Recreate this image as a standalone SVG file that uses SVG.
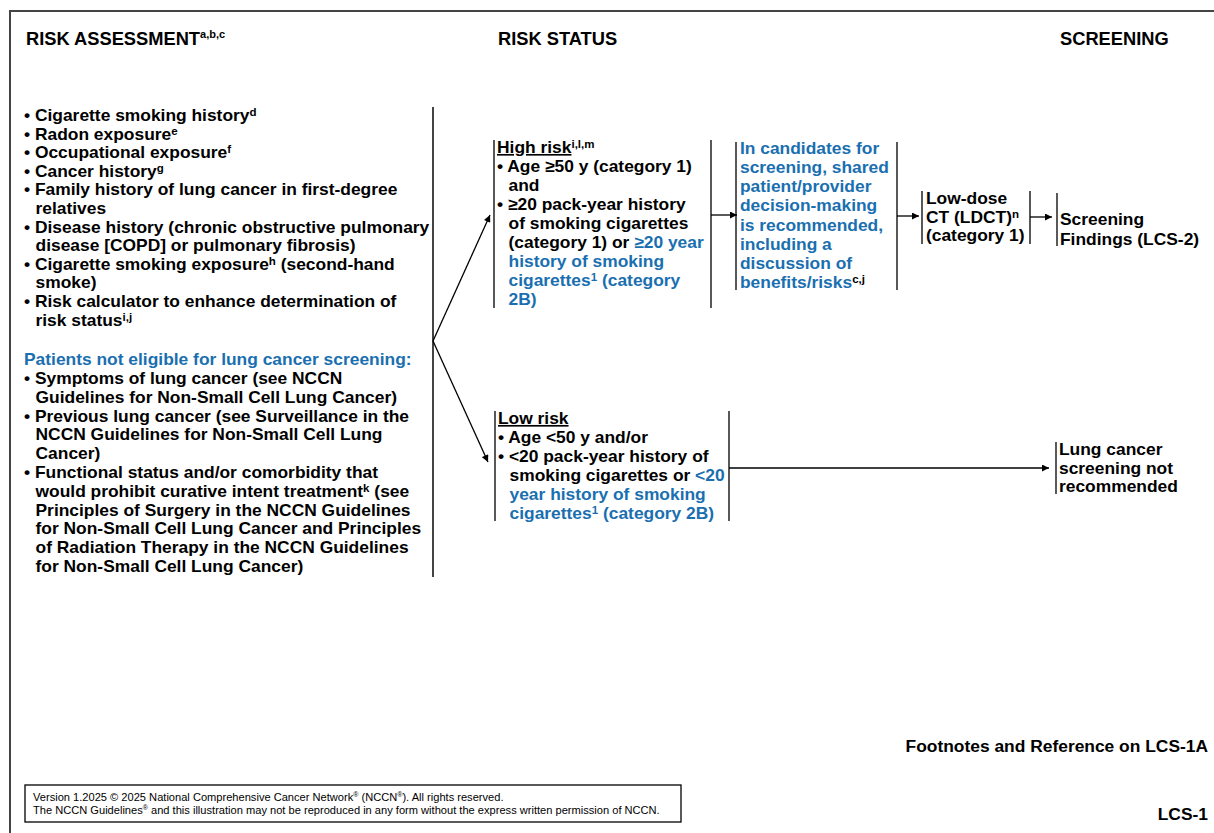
<svg xmlns="http://www.w3.org/2000/svg" width="1214" height="833" viewBox="0 0 1214 833">
<style>
text{font-family:"Liberation Sans",Arial,sans-serif;font-weight:bold;font-size:16.6px;fill:#000}
.b{fill:#1a6fb0}
.h{font-size:18.3px}
.fn{font-size:17.4px}
.sup{font-size:11px}
.ft{font-weight:normal;font-size:11.1px}
.ln{stroke:#000;stroke-width:1.3;fill:none}
.gl{stroke:#444;stroke-width:2;fill:none}
.ar{stroke:#000;stroke-width:1.3;fill:none;marker-end:url(#ah)}
</style>
<defs>
<marker id="ah" viewBox="0 0 10 10" refX="10" refY="5" markerWidth="9" markerHeight="7" markerUnits="userSpaceOnUse" orient="auto">
<path d="M0,0 L10,5 L0,10 z" fill="#000"/>
</marker>
</defs>
<rect width="1214" height="833" fill="#fff"/>
<g id="frame">
<path class="gl" d="M10,833 V11 H1214" stroke-width="1.5"/>
</g>
<g id="headers">
<text class="h" x="26" y="45">RISK ASSESSMENT<tspan class="sup" dy="-7">a,b,c</tspan></text>
<text class="h" x="498" y="45">RISK STATUS</text>
<text class="h" x="1060" y="45">SCREENING</text>
</g>
<g id="risk-assessment">
<g transform="matrix(1.048,0,0,1,-1.152,0)">
<text x="24" y="121">• Cigarette smoking history<tspan class="sup" dy="-5">d</tspan></text>
<text x="24" y="139.6">• Radon exposure<tspan class="sup" dy="-5">e</tspan></text>
<text x="24" y="158.2">• Occupational exposure<tspan class="sup" dy="-5">f</tspan></text>
<text x="24" y="176.8">• Cancer history<tspan class="sup" dy="-5">g</tspan></text>
<text x="24" y="195.4">• Family history of lung cancer in first-degree</text>
<text x="35" y="214">relatives</text>
<text x="24" y="232.6">• Disease history (chronic obstructive pulmonary</text>
<text x="35" y="251.2">disease [COPD] or pulmonary fibrosis)</text>
<text x="24" y="269.8">• Cigarette smoking exposure<tspan class="sup" dy="-5">h</tspan><tspan dy="5"> (second-hand</tspan></text>
<text x="35" y="288.4">smoke)</text>
<text x="24" y="307">• Risk calculator to enhance determination of</text>
<text x="35" y="325.6">risk status<tspan class="sup" dy="-5">i,j</tspan></text>
<text class="b" x="24" y="365">Patients not eligible for lung cancer screening:</text>
<text x="24" y="384">• Symptoms of lung cancer (see NCCN</text>
<text x="35" y="402.8">Guidelines for Non-Small Cell Lung Cancer)</text>
<text x="24" y="421.6">• Previous lung cancer (see Surveillance in the</text>
<text x="35" y="440.4">NCCN Guidelines for Non-Small Cell Lung</text>
<text x="35" y="459.2">Cancer)</text>
<text x="24" y="478">• Functional status and/or comorbidity that</text>
<text x="35" y="496.8">would prohibit curative intent treatment<tspan class="sup" dy="-5">k</tspan><tspan dy="5"> (see</tspan></text>
<text x="35" y="515.6">Principles of Surgery in the NCCN Guidelines</text>
<text x="35" y="534.4">for Non-Small Cell Lung Cancer and Principles</text>
<text x="35" y="553.2">of Radiation Therapy in the NCCN Guidelines</text>
<text x="35" y="572">for Non-Small Cell Lung Cancer)</text>
</g>
</g>
<g id="high-risk">
<path class="ln" d="M494,140 V308 M711,140 V308"/>
<g transform="matrix(1.048,0,0,1,-23.856,0)">
<text x="497" y="153"><tspan text-decoration="underline">High risk</tspan><tspan class="sup" dy="-5">i,l,m</tspan></text>
<text x="497" y="172">• Age ≥50 y (category 1)</text>
<text x="508" y="191">and</text>
<text x="497" y="210">• ≥20 pack-year history</text>
<text x="508" y="229">of smoking cigarettes</text>
<text x="508" y="248">(category 1) or <tspan class="b">≥20 year</tspan></text>
<text class="b" x="508" y="267">history of smoking</text>
<text class="b" x="508" y="286">cigarettes<tspan class="sup b" dy="-5">1</tspan><tspan dy="5"> (category</tspan></text>
<text class="b" x="508" y="305">2B)</text>
</g>
</g>
<g id="shared-decision">
<path class="ln" d="M736,142 V290 M897,142 V290"/>
<g transform="matrix(1.048,0,0,1,-35.52,0)">
<text class="b" x="740" y="154">In candidates for</text>
<text class="b" x="740" y="173">screening, shared</text>
<text class="b" x="740" y="192">patient/provider</text>
<text class="b" x="740" y="211.5">decision-making</text>
<text class="b" x="740" y="231">is recommended,</text>
<text class="b" x="740" y="250">including a</text>
<text class="b" x="740" y="269">discussion of</text>
<text class="b" x="740" y="288">benefits/risks<tspan class="sup" fill="#000" dy="-5">c,j</tspan></text>
</g>
</g>
<g id="ldct">
<path class="ln" d="M922,191 V244 M1030,191 V244"/>
<g transform="matrix(1.048,0,0,1,-44.448,0)">
<text x="926" y="204">Low-dose</text>
<text x="926" y="223">CT (LDCT)<tspan class="sup" dy="-5">n</tspan></text>
<text x="926" y="241">(category 1)</text>
</g>
</g>
<g id="screening-findings">
<path class="ln" d="M1057,193 V246"/>
<g transform="matrix(1.048,0,0,1,-50.88,0)">
<text x="1060" y="225">Screening</text>
<text x="1060" y="245">Findings (LCS-2)</text>
</g>
</g>
<g id="low-risk">
<path class="ln" d="M495,411 V521 M729,411 V521"/>
<g transform="matrix(1.048,0,0,1,-23.904,0)">
<text x="498" y="424" text-decoration="underline">Low risk</text>
<text x="498" y="443">• Age &lt;50 y and/or</text>
<text x="498" y="462">• &lt;20 pack-year history of</text>
<text x="509" y="481">smoking cigarettes or <tspan class="b">&lt;20</tspan></text>
<text class="b" x="509" y="500">year history of smoking</text>
<text class="b" x="509" y="519">cigarettes<tspan class="sup b" dy="-5">1</tspan><tspan dy="5"> (category 2B)</tspan></text>
</g>
</g>
<g id="not-recommended">
<path class="ln" d="M1056,442 V494"/>
<g transform="matrix(1.048,0,0,1,-50.832,0)">
<text x="1059" y="455">Lung cancer</text>
<text x="1059" y="474">screening not</text>
<text x="1059" y="492">recommended</text>
</g>
</g>
<g id="connectors">
<path class="gl" d="M433,107 V577"/>
<path class="ar" d="M433,341 L490,215"/>
<path class="ar" d="M433,341 L488,462"/>
<path class="ar" d="M711,215 H737"/>
<path class="ar" d="M897,216 H919"/>
<path class="ar" d="M1030,217 H1052"/>
<path class="ar" d="M729,468 H1049"/>
</g>
<g id="footer">
<text class="fn" x="1208" y="752" text-anchor="end">Footnotes and Reference on LCS-1A</text>
<text class="fn" x="1208" y="820" text-anchor="end">LCS-1</text>
<rect x="25" y="785" width="656" height="37" fill="none" stroke="#000" stroke-width="1.3"/>
<text class="ft" x="33" y="801">Version 1.2025 © 2025 National Comprehensive Cancer Network<tspan font-size="7" dy="-4">®</tspan><tspan dy="4"> (NCCN</tspan><tspan font-size="7" dy="-4">®</tspan><tspan dy="4">). All rights reserved.</tspan></text>
<text class="ft" x="33" y="814">The NCCN Guidelines<tspan font-size="7" dy="-4">®</tspan><tspan dy="4"> and this illustration may not be reproduced in any form without the express written permission of NCCN.</tspan></text>
</g>
</svg>
